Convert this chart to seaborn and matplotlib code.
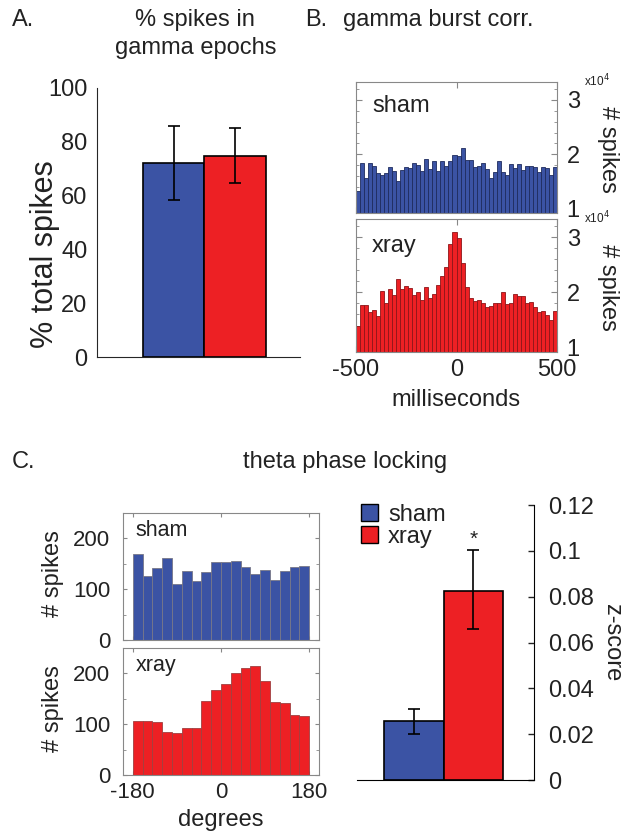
import numpy as np
import pandas as pd
import matplotlib
matplotlib.use('Agg')
import matplotlib.pyplot as plt
from matplotlib.patches import Patch
import seaborn as sns

groups = ['sham', 'xray']
group_colors = ['#3B53A4', '#ED2024']
edge_colors = ['#1F2C5E', '#8E1518']

# A. % spikes in gamma epochs
gamma_pct = [72.3, 74.6]
gamma_lo = [58.2, 64.7]
gamma_hi = [86.0, 85.0]

# B. gamma burst correlogram (counts x 1e4, 20 ms bins)
lag_lims = [-500, 500]
corr_sham = [1.33, 1.84, 1.57, 1.84, 1.79, 1.66, 1.62, 1.65, 1.76, 1.70,
             1.51, 1.72, 1.76, 1.74, 1.84, 1.81, 1.70, 1.91, 1.73, 1.87,
             1.70, 1.87, 1.79, 1.87, 1.98, 1.96, 2.11, 1.90, 1.90, 1.77,
             1.79, 1.84, 1.73, 1.56, 1.68, 1.88, 1.68, 1.61, 1.82, 1.75,
             1.82, 1.71, 1.79, 1.79, 1.77, 1.67, 1.77, 1.74, 1.62, 1.76]
corr_xray = [1.39, 1.77, 1.77, 1.65, 1.68, 1.57, 2.02, 1.81, 2.07, 1.96,
             2.25, 2.06, 2.12, 2.08, 1.96, 2.00, 1.86, 2.09, 1.90, 1.98,
             2.13, 2.30, 2.46, 2.87, 3.09, 2.98, 2.54, 2.10, 1.90, 1.85,
             1.86, 1.80, 1.74, 1.76, 1.80, 1.81, 2.00, 1.79, 1.80, 1.98,
             1.93, 1.94, 1.80, 1.83, 1.74, 1.64, 1.66, 1.59, 1.50, 1.66]

# C. theta phase histograms (20 degree bins) and z-scores
phase_lims = [-180, 180]
phase_sham = [170, 126, 141, 162, 111, 136, 116, 134, 154, 154, 156, 144, 130, 138, 118, 135, 144, 146]
phase_xray = [106, 106, 104, 84, 82, 93, 93, 146, 167, 179, 201, 211, 215, 185, 143, 141, 118, 116]
zscore = [0.0257, 0.0826]
z_lo = [0.020, 0.0658]
z_hi = [0.031, 0.1004]

sns.set_style('white')
plt.rcParams['font.family'] = ['Liberation Sans', 'DejaVu Sans']
plt.rcParams['axes.unicode_minus'] = False
txt = '#222222'
plt.rcParams['text.color'] = txt
plt.rcParams['xtick.color'] = txt
plt.rcParams['ytick.color'] = txt

W, H = 627, 838
fig = plt.figure(figsize=(W / 100, H / 100), dpi=100)


def box(x0, y0, x1, y1):
    return fig.add_axes([x0 / W, 1 - y1 / H, (x1 - x0) / W, (y1 - y0) / H])


def ftext(x, y, s, **kw):
    kw.setdefault('ha', 'center')
    kw.setdefault('va', 'center')
    kw.setdefault('fontsize', 17)
    fig.text(x / W, 1 - y / H, s, **kw)


# ---- A ----
axA = box(97, 88, 300, 357)
sns.barplot(x=groups, y=gamma_pct, hue=groups, palette=group_colors, width=1, saturation=1,
            edgecolor='black', linewidth=1.2, errorbar=None, legend=False, ax=axA)
axA.errorbar([0, 1], gamma_pct,
             yerr=[np.subtract(gamma_pct, gamma_lo), np.subtract(gamma_hi, gamma_pct)],
             fmt='none', ecolor='black', elinewidth=1.2, capsize=4.5, capthick=1.2)
axA.set_xlim(-1.24, 2.05)
axA.set_ylim(0, 100)
axA.set_yticks(range(0, 101, 20))
axA.set_yticks(range(10, 100, 20), minor=True)
axA.set_xticks([])
axA.tick_params(axis='y', which='both', direction='out', length=5, width=1, labelsize=17, pad=2)
sns.despine(ax=axA)
axA.set_xlabel('')
axA.set_ylabel('')
ftext(45, 254, '% total spikes', rotation=90, fontsize=22)
ftext(12, 20, 'A.', ha='left')
ftext(195, 20, '% spikes in')
ftext(196, 48, 'gamma epochs')

# ---- B ----
lag_bin = (lag_lims[1] - lag_lims[0]) / len(corr_sham)
lag_centers = np.arange(len(corr_sham)) * lag_bin + lag_lims[0] + lag_bin / 2
panelsB = [(82, 213, corr_sham, 0), (219, 352, corr_xray, 1)]
for y0, y1, vals, i in panelsB:
    ax = box(356, y0, 557, y1)
    df = pd.DataFrame({'lag': lag_centers, 'count': vals})
    sns.histplot(data=df, x='lag', weights='count', binwidth=lag_bin, binrange=lag_lims,
                 color=group_colors[i], edgecolor=edge_colors[i], linewidth=0.6, alpha=1, ax=ax)
    ax.set_xlim(lag_lims)
    ax.set_ylim(0.92, 3.33)
    ax.set_yticks([1, 2, 3])
    ax.set_yticks(np.arange(1.2, 3.3, 0.2), minor=True)
    ax.set_xticks([-500, 0, 500])
    ax.tick_params(which='both', direction='in', left=True, right=True, top=True, bottom=True,
                   labelleft=False, labelright=True, labelsize=17, color='#888888', pad=7)
    ax.tick_params(which='major', length=4)
    ax.tick_params(which='minor', length=2.5)
    for s in ax.spines.values():
        s.set_color('#888888')
        s.set_linewidth(0.8)
    ax.set_xlabel('')
    ax.set_ylabel('')
    if i == 0:
        ax.tick_params(labelbottom=False)
    else:
        ax.tick_params(axis='x', labelsize=17, pad=5)
    ax.text(0.08, 0.82 if i == 0 else 0.8, groups[i], transform=ax.transAxes,
            ha='left', va='center', fontsize=17)
    ftext(597, y0 - 1, r'x10$^4$', fontsize=8.5)
    ftext(608, (y0 + y1) / 2 + 2, '# spikes', rotation=270)
ftext(456, 400, 'milliseconds')
ftext(305, 20, 'B.', ha='left')
ftext(438, 20, 'gamma burst corr.')

# ---- C histograms ----
phase_bin = (phase_lims[1] - phase_lims[0]) / len(phase_sham)
phase_centers = np.arange(len(phase_sham)) * phase_bin + phase_lims[0] + phase_bin / 2
panelsC = [(513, 640, phase_sham, 0), (648, 775, phase_xray, 1)]
for y0, y1, vals, i in panelsC:
    ax = box(123, y0, 319, y1)
    df = pd.DataFrame({'phase': phase_centers, 'count': vals})
    sns.histplot(data=df, x='phase', weights='count', binwidth=phase_bin, binrange=phase_lims,
                 color=group_colors[i], edgecolor='#777788' if i == 0 else '#A04040',
                 linewidth=0.6, alpha=1, ax=ax)
    ax.set_xlim(-200, 200)
    ax.set_ylim(0, 250)
    ax.set_yticks([0, 100, 200])
    ax.set_yticks([50, 150], minor=True)
    ax.set_xticks([-180, 0, 180])
    ax.tick_params(which='both', direction='in', left=True, right=True, top=True, bottom=True,
                   labelsize=16, color='#888888', pad=9)
    ax.tick_params(which='major', length=3)
    ax.tick_params(which='minor', length=2)
    for s in ax.spines.values():
        s.set_color('#888888')
        s.set_linewidth(0.8)
    ax.set_xlabel('')
    ax.set_ylabel('')
    if i == 0:
        ax.tick_params(labelbottom=False)
    else:
        ax.tick_params(axis='x', pad=5)
    ax.text(0.065, 0.86, groups[i], transform=ax.transAxes,
            ha='left', va='center', fontsize=15.5)
    ftext(53, (y0 + y1) / 2 - 3, '# spikes', rotation=90)
ftext(221, 820, 'degrees')

# ---- C z-score bars ----
axZ = box(357, 505, 534, 780)
sns.barplot(x=groups, y=zscore, hue=groups, palette=group_colors, width=1, saturation=1,
            edgecolor='black', linewidth=1.2, errorbar=None, legend=False, ax=axZ)
axZ.errorbar([0, 1], zscore,
             yerr=[np.subtract(zscore, z_lo), np.subtract(z_hi, zscore)],
             fmt='none', ecolor='black', elinewidth=1.2, capsize=4.5, capthick=1.2)
axZ.text(1, z_hi[1] + 0.0045, '*', ha='center', va='center', fontsize=15)
axZ.set_xlim(-0.96, 2.02)
axZ.set_ylim(0, 0.12)
axZ.set_yticks(np.arange(0, 0.121, 0.02))
axZ.set_yticklabels(['0', '0.02', '0.04', '0.06', '0.08', '0.1', '0.12'])
axZ.set_xticks([])
axZ.yaxis.tick_right()
axZ.tick_params(axis='y', direction='in', length=4, width=1, labelsize=17, pad=10)
axZ.spines['left'].set_visible(False)
axZ.spines['top'].set_visible(False)
axZ.spines['right'].set_color('black')
axZ.spines['bottom'].set_color('black')
axZ.set_xlabel('')
axZ.set_ylabel('')
handles = [Patch(facecolor=c, edgecolor='black', linewidth=1) for c in group_colors]
axZ.legend(handles, groups, loc='upper left', bbox_to_anchor=(361 / W, 1 - 504 / H),
           bbox_transform=fig.transFigure, frameon=False, fontsize=17,
           handlelength=0.7, handleheight=0.7, handletextpad=0.45,
           labelspacing=0.0, borderpad=0, borderaxespad=0)
ftext(612, 643, 'z-score', rotation=270)

ftext(12, 462, 'C.', ha='left')
ftext(345, 462, 'theta phase locking')

fig.savefig('out.png', dpi=100)
